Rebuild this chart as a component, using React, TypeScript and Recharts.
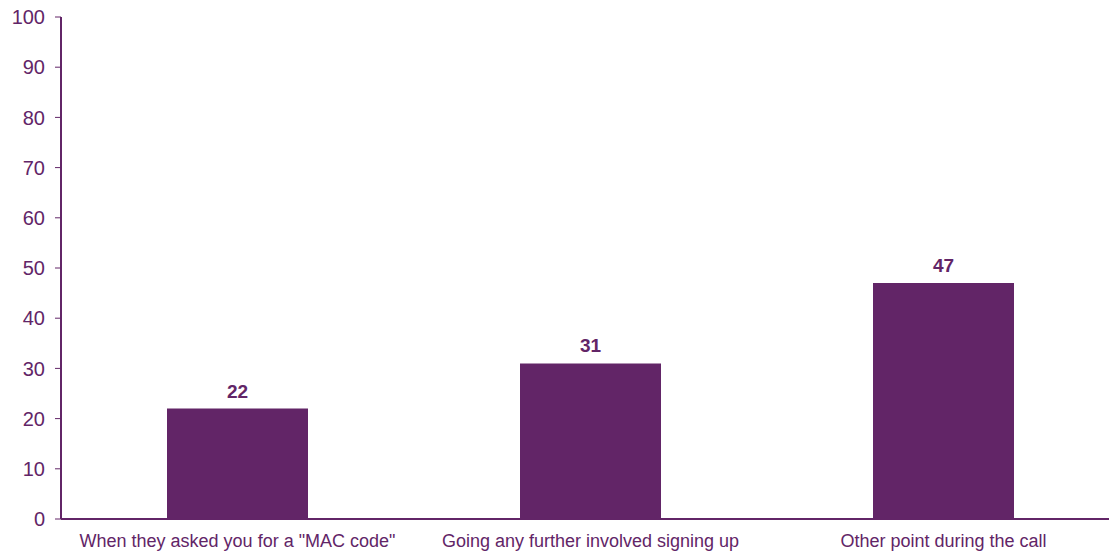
import { BarChart, Bar, XAxis, YAxis, LabelList } from "recharts"

const categories = [
  'When they asked you for a "MAC code"',
  "Going any further involved signing up",
  "Other point during the call",
]
const values = [22, 31, 47]
const yTicks = [0, 10, 20, 30, 40, 50, 60, 70, 80, 90, 100]

const purple = "#622567"
const font = "Liberation Sans, Arial, sans-serif"

export default function App() {
  const data = categories.map((name, i) => ({ name, value: values[i] }))

  return (
    <div style={{ width: 1109, height: 554, overflow: "hidden", position: "relative" }}>
      <style>{"body{margin:0}"}</style>
      <BarChart
        width={1120}
        height={554}
        data={data}
        margin={{ top: 17, right: 0, left: 0, bottom: 0 }}
      >
        <XAxis
          dataKey="name"
          height={35}
          tickLine={false}
          axisLine={{ stroke: purple, strokeWidth: 2 }}
          tick={{ fill: purple, fontSize: 18, fontFamily: font }}
          tickMargin={9}
          interval={0}
        />
        <YAxis
          width={61}
          domain={[0, 100]}
          ticks={yTicks}
          interval={0}
          axisLine={{ stroke: purple, strokeWidth: 2 }}
          tickLine={{ stroke: purple }}
          tickSize={6}
          tickMargin={10}
          tick={{ fill: purple, fontSize: 20, fontFamily: font }}
        />
        <Bar dataKey="value" fill={purple} barSize={141} isAnimationActive={false}>
          <LabelList
            dataKey="value"
            position="top"
            offset={11}
            style={{ fill: purple, fontSize: 19, fontWeight: "bold", fontFamily: font }}
          />
        </Bar>
      </BarChart>
    </div>
  )
}
